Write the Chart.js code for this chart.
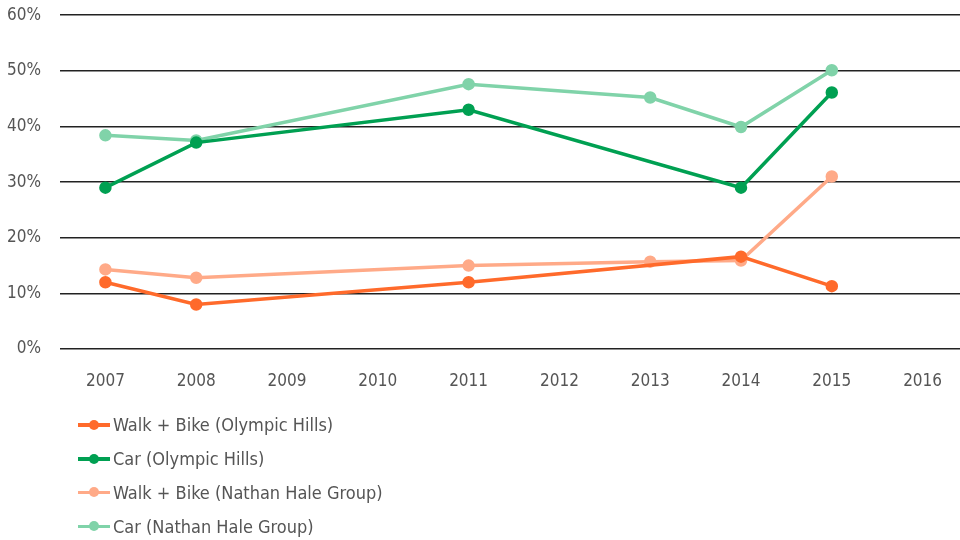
<!DOCTYPE html>
<html><head><meta charset="utf-8">
<script src="https://cdn.jsdelivr.net/npm/chart.js@4/dist/chart.umd.min.js"></script>
<style>
html,body{margin:0;padding:0;background:#fff;overflow:hidden;width:960px;height:540px;}
#wrap{position:relative;width:976px;height:540px;overflow:hidden;}
#c{position:absolute;left:0;top:-14px;}
#legend{position:absolute;left:78px;top:408px;font-family:"DejaVu Sans Condensed","Liberation Sans Narrow",sans-serif;font-size:18px;color:#555;}
.item{height:33.8px;display:flex;align-items:center;}
.sw{position:relative;width:32px;height:10px;margin-right:3px;}
.sw .ln{position:absolute;left:0;right:0;top:3.5px;height:3.5px;}
.sw .dt{position:absolute;left:11px;top:0;width:10px;height:10px;border-radius:50%;}
</style></head>
<body><div id="wrap"><canvas id="c" width="976" height="554"></canvas><div id="legend"></div></div>
<script>
const years = ["2007","2008","2009","2010","2011","2012","2013","2014","2015","2016"];
const walkOlympic = [12.0, 8.0, null, null, 12.0, null, null, 16.6, 11.3, null];
const carOlympic = [29.0, 37.1, null, null, 43.0, null, null, 29.0, 46.1, null];
const walkNathan = [14.3, 12.8, null, null, 15.0, null, 15.7, 15.9, 31.0, null];
const carNathan = [38.4, 37.5, null, null, 47.6, null, 45.2, 39.9, 50.1, null];
const seriesNames = ["Walk + Bike (Olympic Hills)","Car (Olympic Hills)","Walk + Bike (Nathan Hale Group)","Car (Nathan Hale Group)"];
const colors = ["#FF6A2B","#00A052","#FFAA88","#80D3A9"];
const yTicks = [0,10,20,30,40,50,60];

const font = '"DejaVu Sans Condensed","Liberation Sans Narrow",sans-serif';
const dataArr = [walkOlympic, carOlympic, walkNathan, carNathan];
const datasets = dataArr.map((d,i)=>({
  label: seriesNames[i], data: d, borderColor: colors[i], backgroundColor: colors[i],
  borderWidth: 3.5, pointRadius: 4.5, pointHoverRadius: 4.5, spanGaps: true, tension: 0
}));

new Chart(document.getElementById('c'), {
  type: 'line',
  data: { labels: years, datasets },
  options: {
    responsive: false, animation: false, devicePixelRatio: 1,
    layout: { padding: { top: 0, right: 0, bottom: 141, left: 0 } },
    plugins: { legend: { display: false }, tooltip: { enabled: false } },
    scales: {
      x: {
        offset: true,
        grid: { display: false, drawTicks: false },
        border: { display: false },
        ticks: { color: '#555', font: { family: font, size: 17 }, padding: 22, maxRotation: 0 },
        afterFit(s){ s.height = 50; }
      },
      y: {
        min: 0, max: 60,
        afterBuildTicks(s){ s.ticks = yTicks.map(v=>({value:v})); },
        grid: { color: '#222', lineWidth: 1.5, drawTicks: false },
        border: { display: false },
        ticks: { color: '#555', font: { family: font, size: 17 }, padding: 19, callback: v => v + '%' },
        afterFit(s){ s.width = 60; }
      }
    }
  }
});

const lg = document.getElementById('legend');
seriesNames.forEach((n,i)=>{
  const it = document.createElement('div'); it.className='item';
  it.innerHTML = '<div class="sw"><div class="ln" style="background:'+colors[i]+'"></div><div class="dt" style="background:'+colors[i]+'"></div></div><span>'+n+'</span>';
  lg.appendChild(it);
});
</script></body></html>
